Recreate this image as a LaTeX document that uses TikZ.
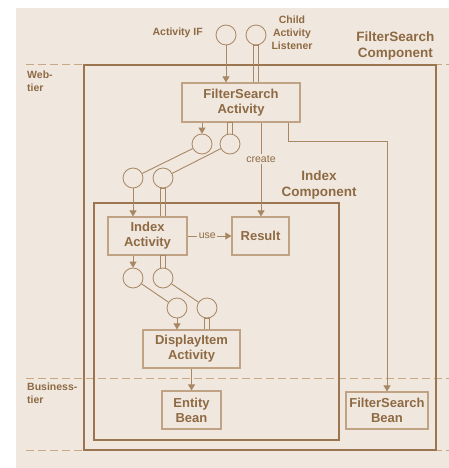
\documentclass[tikz,border=0pt]{standalone}
\usepackage{fontspec}
\setmainfont{Liberation Sans}
\usetikzlibrary{arrows.meta,calc}

\definecolor{bgcol}{HTML}{F0E7DF}
\definecolor{txtcol}{HTML}{8E6A43}
\definecolor{edgecol}{HTML}{A88763}
\definecolor{framecol}{HTML}{9B7450}
\definecolor{boxcol}{HTML}{BFA384}
\definecolor{dashcol}{HTML}{C6A884}

% socket pair: crossbar at #1, two legs down to #2
\newcommand{\sockpair}[2]{%
  \draw[sock] ($(#2)+(-2.5,0)$) -- ($(#1)+(-2.5,0)$) -- ($(#1)+(2.5,0)$) -- ($(#2)+(2.5,0)$);}

\begin{document}
\begin{tikzpicture}[x=1pt,y=-1pt,
  every node/.style={text=txtcol},
  actbox/.style={draw=boxcol,line width=1.2pt,rectangle,inner sep=0pt,align=center,
    font=\bfseries\fontsize{13}{15}\selectfont},
  iface/.style={draw=edgecol,line width=0.8pt,circle,minimum size=20pt,inner sep=0pt},
  frame/.style={draw=framecol,line width=2pt},
  tierline/.style={draw=dashcol,line width=1pt,dash pattern=on 8pt off 4pt},
  conn/.style={draw=edgecol,line width=0.9pt},
  arr/.style={conn,-{Triangle[width=7pt,length=6pt]}},
  sock/.style={draw=edgecol,line width=0.9pt},
  lbl/.style={font=\bfseries\fontsize{10.5}{13}\selectfont,align=left},
  head/.style={font=\bfseries\fontsize{13.5}{16}\selectfont,align=center},
  edgelbl/.style={font=\fontsize{10.5}{12}\selectfont,fill=bgcol,inner sep=1.5pt}]

\useasboundingbox (0,0) rectangle (449,468);
\fill[white] (0,0) rectangle (449,468);
\fill[bgcol] (16,8) rectangle (449,468);

% tier separators
\draw[tierline] (26,65) -- (449,65);
\draw[tierline] (26,378) -- (449,378);
\draw[tierline] (26,450) -- (449,450);
\node[lbl,anchor=north west,inner sep=0pt] (web) at (27,71) {Web-\\tier};
\node[lbl,anchor=north west,inner sep=0pt] (biz) at (27,383) {Business-\\tier};

% component frames
\draw[frame] (84,65) rectangle (436,450);
\draw[frame] (94,203) rectangle (339,440);
\node[head,anchor=east] (fscomp) at (438,46) {FilterSearch\\Component};
\node[head] (idxcomp) at (319,185) {Index\\Component};

% activities and beans
\node[actbox,minimum width=118pt,minimum height=39pt] (fsact) at (241,102.5) {FilterSearch\\Activity};
\node[actbox,minimum width=79pt,minimum height=38pt] (idxact) at (147.5,236) {Index\\Activity};
\node[actbox,minimum width=57pt,minimum height=38pt] (result) at (260.5,236) {Result};
\node[actbox,minimum width=97pt,minimum height=38pt] (dispact) at (191.5,349) {DisplayItem\\Activity};
\node[actbox,minimum width=59pt,minimum height=38pt] (entity) at (191.5,410) {Entity\\Bean};
\node[actbox,minimum width=82pt,minimum height=37pt] (fsbean) at (387,410.5) {FilterSearch\\Bean};

% interfaces
\node[iface] (cIF) at (226,35) {};
\node[iface] (cCAL) at (256,35) {};
\node[iface] (c1) at (202,144) {};
\node[iface] (c2) at (230,144) {};
\node[iface] (c3) at (133,178) {};
\node[iface] (c4) at (163,178) {};
\node[iface] (c5) at (133,278) {};
\node[iface] (c6) at (163,278) {};
\node[iface] (c7) at (177,308) {};
\node[iface] (c8) at (207,308) {};

\node[lbl,anchor=east,inner sep=0pt] (lIF) at (203,33) {Activity IF};
\node[lbl,align=center,inner sep=0pt] (lCAL) at (292,33) {Child\\Activity\\Listener};

% provided interfaces
\draw[arr] (cIF) -- (cIF |- fsact.north);
\draw[arr] (c1 |- fsact.south) -- (c1);
\draw[arr] (c3) -- (c3 |- idxact.north);
\draw[arr] (c5 |- idxact.south) -- (c5);
\draw[arr] (c7) -- (c7 |- dispact.north);

% listener sockets
\sockpair{cCAL.south}{cCAL.south |- fsact.north}
\sockpair{c2.north |- fsact.south}{c2.north}
\sockpair{c4.south}{c4.south |- idxact.north}
\sockpair{c6.north |- idxact.south}{c6.north}
\sockpair{c8.south}{c8.south |- dispact.north}

% delegation between interfaces
\draw[conn] (c1) -- (c3);
\draw[conn] (c2) -- (c4);
\draw[conn] (c5) -- (c7);
\draw[conn] (c6) -- (c8);

% dependencies
\coordinate (cr) at (261,0);
\draw[arr] (cr |- fsact.south) -- node[edgelbl,pos=0.39] {create} (cr |- result.north);
\draw[arr] (idxact.east) -- node[edgelbl,pos=0.45] {use} (result.west);
\draw[arr] (dispact.south) -- (entity.north);
\coordinate (bn) at (288,141);
\draw[arr] (bn |- fsact.south) -- (bn) -| (fsbean.north);

\end{tikzpicture}
\end{document}
